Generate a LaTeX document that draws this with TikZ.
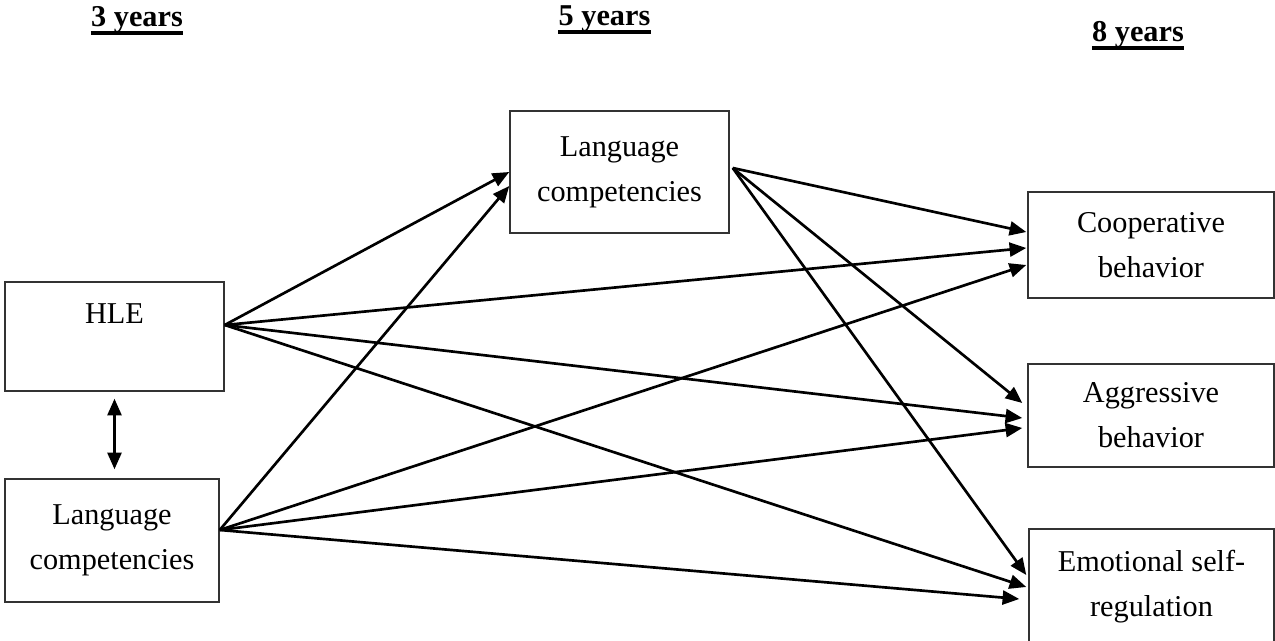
\documentclass[tikz,border=0pt]{standalone}
\usepackage{fontspec}
\setmainfont{Liberation Serif}
\usetikzlibrary{arrows.meta}
\begin{document}
\begin{tikzpicture}[x=0.75pt,y=-0.75pt,
  box/.style={draw=black!80, line width=1.1pt, inner sep=0pt, align=center,
    font=\fontsize{22.7}{33.75}\selectfont},
  hdr/.style={inner sep=0pt, anchor=base, font=\fontsize{22.7}{27}\selectfont\bfseries},
  uline/.style={line width=2.3pt},
  tip/.style={Triangle[length=12.5pt,width=10.5pt]},
  arr/.style={line width=2pt, -{Triangle[length=12.5pt,width=10.5pt]}},
  biarr/.style={line width=2pt, {Triangle[length=12.5pt,width=10.5pt]}-{Triangle[length=12.5pt,width=10.5pt]}}
]
\useasboundingbox (0,0) rectangle (1275,641);
\clip (0,0) rectangle (1275,641);

% age headers
\node[hdr] (h3) at (137,27) {3 years};
\node[hdr] (h5) at (604.5,26) {5 years};
\node[hdr] (h8) at (1138,42) {8 years};
\foreach \h in {h3,h5,h8}
  \draw[uline] ([shift={(0,6)}]\h.base west) -- ([shift={(0,6)}]\h.base east);

% measures at 3 years
\node[box, minimum width=164.25pt, minimum height=81.75pt] (hle) at (114.5,336.5) {HLE\\~};
\node[box, minimum width=160.5pt, minimum height=92.25pt] (lc3) at (112,540.5) {Language\\competencies};

% measure at 5 years
\node[box, minimum width=164.25pt, minimum height=91.5pt] (lc5) at (619.5,172) {Language\\competencies};

% outcomes at 8 years
\node[box, minimum width=184.5pt, minimum height=79.5pt] (coop) at (1151,245) {Cooperative\\behavior};
\node[box, minimum width=184.5pt, minimum height=77.25pt] (aggr) at (1151,415.5) {Aggressive\\behavior};
\node[box, minimum width=183.75pt, minimum height=86.25pt] (emot) at (1151.5,586.5) {Emotional self-\\regulation};

% correlation at 3 years
\draw[biarr] ([shift={(0,7)}]hle.south) -- ([shift={(2.5,-9)}]lc3.north);

% paths from HLE
\draw[arr] ([shift={(0,-11.5)}]hle.east) -- (lc5.west);
\draw[arr] ([shift={(0,-11.5)}]hle.east) -- ([shift={(-1,3)}]coop.west);
\draw[arr] ([shift={(0,-11.5)}]hle.east) -- ([shift={(-5,2.5)}]aggr.west);
\draw[arr] ([shift={(0,-11.5)}]hle.east) -- ([shift={(-2,0.5)}]emot.west);

% paths from language competencies at 3 years
\draw[arr] ([shift={(0,-10.5)}]lc3.east) -- ([shift={(0,14)}]lc5.west);
\draw[arr] ([shift={(0,-10.5)}]lc3.east) -- ([shift={(-1,20)}]coop.west);
\draw[arr] ([shift={(0,-10.5)}]lc3.east) -- ([shift={(-5,12.5)}]aggr.west);
\draw[arr] ([shift={(0,-10.5)}]lc3.east) -- ([shift={(-9,12.5)}]emot.west);

% paths from language competencies at 5 years
\draw[arr] ([shift={(3,-4)}]lc5.east) -- ([shift={(-1,-13)}]coop.west);
\draw[arr] ([shift={(3,-4)}]lc5.east) -- ([shift={(-5,-12.5)}]aggr.west);
\draw[arr] ([shift={(3,-4)}]lc5.east) -- ([shift={(-2,-11.5)}]emot.west);
\end{tikzpicture}
\end{document}
